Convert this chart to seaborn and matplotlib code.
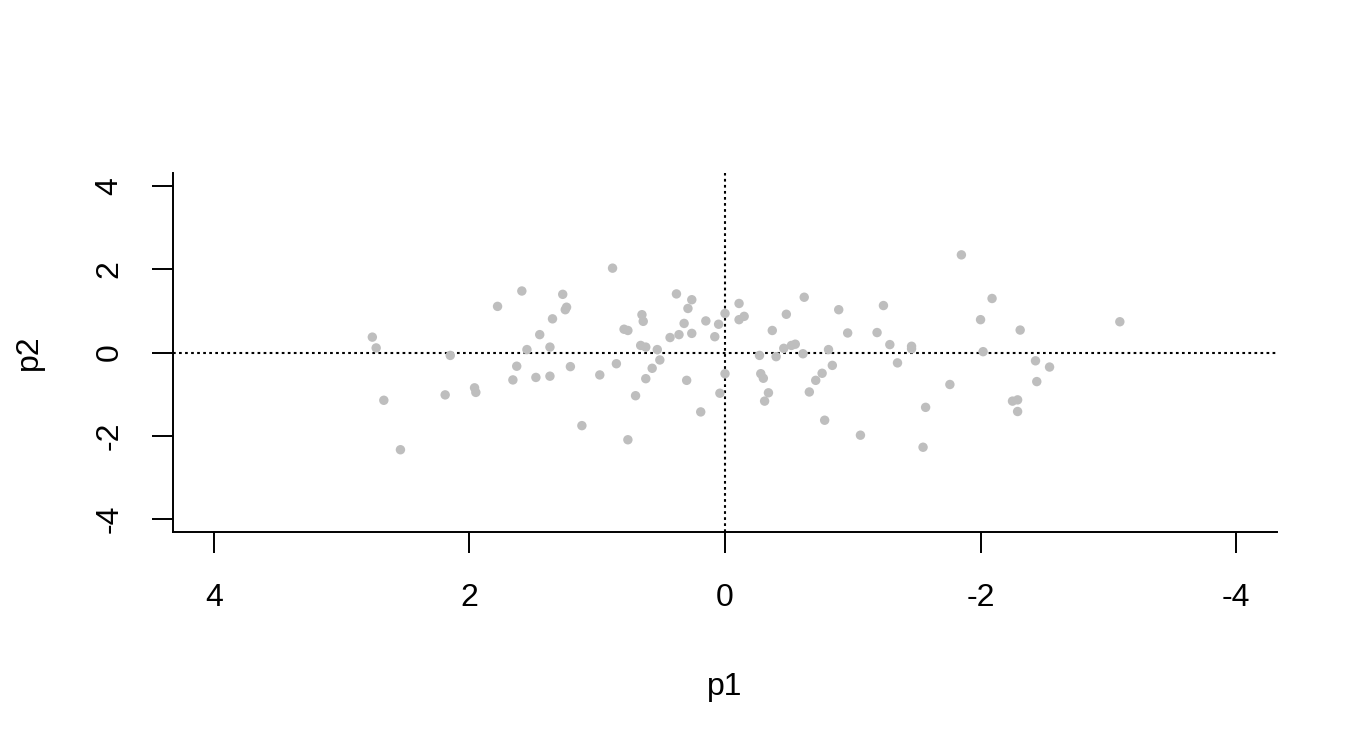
import pandas as pd
import matplotlib
matplotlib.use("Agg")
import matplotlib.pyplot as plt
import seaborn as sns

# values
p1 = [2.76, 2.73, 2.67, 2.54, 2.19, 2.15, 1.96, 1.95, 1.78, 1.66,
      1.63, 1.59, 1.55, 1.48, 1.45, 1.37, 1.37, 1.35, 1.27, 1.25,
      1.24, 1.21, 1.12, 0.98, 0.88, 0.85, 0.79, 0.76, 0.76, 0.70,
      0.66, 0.65, 0.64, 0.62, 0.62, 0.57, 0.53, 0.51, 0.43, 0.38,
      0.36, 0.32, 0.30, 0.29, 0.26, 0.26, 0.19, 0.15, 0.08, 0.05,
      0.04, 0.00, -0.00, -0.11, -0.11, -0.15, -0.27, -0.28, -0.30, -0.34,
      -0.31, -0.37, -0.40, -0.46, -0.48, -0.52, -0.55, -0.61, -0.62, -0.66,
      -0.71, -0.76, -0.78, -0.81, -0.84, -0.89, -0.96, -1.06, -1.19, -1.24,
      -1.29, -1.35, -1.46, -1.46, -1.55, -1.57, -1.76, -1.85, -2.00, -2.02,
      -2.09, -2.25, -2.29, -2.29, -2.31, -2.43, -2.44, -2.54, -3.09]
p2 = [0.37, 0.11, -1.15, -2.34, -1.02, -0.07, -0.85, -0.96, 1.11, -0.66,
      -0.33, 1.48, 0.07, -0.60, 0.43, -0.57, 0.13, 0.81, 1.40, 1.03,
      1.09, -0.34, -1.76, -0.54, 2.03, -0.27, 0.56, 0.53, -2.10, -1.04,
      0.17, 0.91, 0.75, 0.13, -0.63, -0.38, 0.07, -0.18, 0.36, 1.41,
      0.43, 0.70, -0.67, 1.06, 1.27, 0.46, -1.43, 0.76, 0.38, 0.68,
      -0.98, 0.94, -0.51, 1.18, 0.79, 0.87, -0.07, -0.51, -0.62, -0.97,
      -1.17, 0.53, -0.10, 0.10, 0.92, 0.17, 0.20, -0.03, 1.33, -0.95,
      -0.67, -0.50, -1.63, 0.07, -0.31, 1.03, 0.47, -1.99, 0.48, 1.13,
      0.19, -0.25, 0.15, 0.09, -2.28, -1.32, -0.77, 2.35, 0.79, 0.02,
      1.30, -1.17, -1.14, -1.42, 0.54, -0.20, -0.70, -0.35, 0.74]
ticks = [4, 2, 0, -2, -4]

df = pd.DataFrame({"p1": p1, "p2": p2})

sns.set_style("ticks")
plt.rcParams["font.family"] = ["Liberation Sans", "DejaVu Sans"]

fig = plt.figure(figsize=(13.66, 7.48), dpi=100)
ax = fig.add_axes([173 / 1366, 1 - 532 / 748, 1104 / 1366, 359 / 748])

ax.axvline(0, color="black", lw=1.5, ls=(0, (1.3, 1.6)), zorder=1)
ax.axhline(0, color="black", lw=1.5, ls=(0, (1.3, 1.6)), zorder=1)
sns.scatterplot(data=df, x="p1", y="p2", color="#BEBEBE", s=46,
                edgecolor="none", ax=ax, zorder=2)

ax.set_xlim(4.32, -4.32)
ax.set_ylim(-4.32, 4.32)
ax.set_xticks(ticks)
ax.set_yticks(ticks)
ax.set_xticklabels([str(t) for t in ticks])
ax.set_yticklabels([str(t) for t in ticks], rotation=90, va="center")

for side in ["top", "right"]:
    ax.spines[side].set_visible(False)
for side in ["left", "bottom"]:
    ax.spines[side].set_linewidth(1.4)
    ax.spines[side].set_color("black")
ax.tick_params(axis="both", length=15, width=1.4, color="black",
               labelsize=23, labelcolor="black")
ax.tick_params(axis="x", pad=22)
ax.tick_params(axis="y", pad=20)
ax.grid(False)

ax.set_xlabel("p1", fontsize=23, labelpad=42, color="black")
ax.set_ylabel("p2", fontsize=23, labelpad=36, color="black")

fig.savefig("out.png", dpi=100)
